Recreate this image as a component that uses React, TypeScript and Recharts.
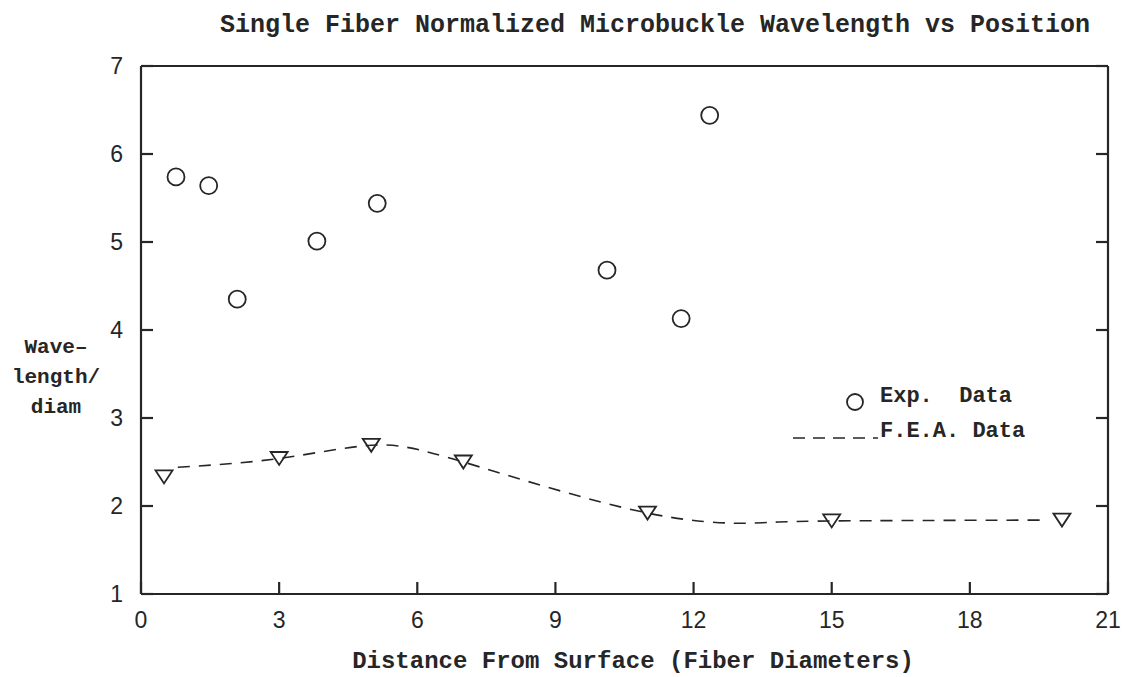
import { ComposedChart, Scatter, Line, XAxis, YAxis, Legend } from "recharts";

const X_TICKS = [0, 3, 6, 9, 12, 15, 18, 21];
const Y_TICKS = [1, 2, 3, 4, 5, 6, 7];

// experimental points (circles)
const expX = [0.76, 1.47, 2.09, 3.82, 5.13, 10.12, 11.73, 12.35];
const expY = [5.74, 5.64, 4.35, 5.01, 5.44, 4.68, 4.13, 6.44];

// F.E.A. points (triangles)
const feaX = [0.5, 3, 5, 7, 11, 15, 20];
const feaY = [2.33, 2.54, 2.69, 2.5, 1.92, 1.83, 1.84];

// dashed curve
const curveX = [0.8, 3, 5, 7, 11, 13.5, 15, 19.6];
const curveY = [2.44, 2.54, 2.69, 2.5, 1.92, 1.81, 1.83, 1.84];

const expData = expX.map((x, i) => ({ x, y: expY[i] }));
const feaData = feaX.map((x, i) => ({ x, y: feaY[i] }));
const curveData = curveX.map((x, i) => ({ x, y: curveY[i] }));

const INK = "#262626";
const MONO = "'Liberation Mono', 'DejaVu Sans Mono', monospace";
const SANS = "'Liberation Sans', Arial, sans-serif";

const tickStyle = { fontFamily: SANS, fontSize: 23, fill: INK };

function Triangle(props: any) {
  const { cx, cy } = props;
  if (cx == null || cy == null) return null;
  const d = `M${cx - 8.5},${cy - 6.5} L${cx + 8.5},${cy - 6.5} L${cx},${cy + 6.5} Z`;
  return <path d={d} fill="none" stroke={INK} strokeWidth={1.8} strokeLinejoin="miter" />;
}

function Ring(props: any) {
  const { cx, cy } = props;
  if (cx == null || cy == null) return null;
  return <circle cx={cx} cy={cy} r={8.5} fill="none" stroke={INK} strokeWidth={1.8} />;
}

function KeyBox() {
  const row = { display: "flex", alignItems: "flex-start", height: 35, lineHeight: "35px" };
  return (
    <div style={{ fontFamily: MONO, fontSize: 22, fontWeight: 700, color: INK }}>
      <div style={row}>
        <svg width={90} height={35}>
          <circle cx={65} cy={23} r={8} fill="none" stroke={INK} strokeWidth={1.8} />
        </svg>
        <span style={{ whiteSpace: "pre" }}>Exp.  Data</span>
      </div>
      <div style={row}>
        <svg width={90} height={35}>
          <line x1={3} x2={88} y1={24} y2={24} stroke={INK} strokeWidth={1.6} strokeDasharray="12 8" />
        </svg>
        <span style={{ whiteSpace: "pre" }}>F.E.A. Data</span>
      </div>
    </div>
  );
}

export default function App() {
  return (
    <div style={{ position: "absolute", left: 0, top: 0, width: 1131, height: 677, background: "#fff" }}>
      <div
        style={{
          position: "absolute", left: 205, top: 11, width: 900, textAlign: "center",
          fontFamily: MONO, fontWeight: 700, fontSize: 25, lineHeight: "30px", color: INK,
        }}
      >
        Single Fiber Normalized Microbuckle Wavelength vs Position
      </div>
      <div
        style={{
          position: "absolute", left: 6, top: 333, width: 100, textAlign: "center",
          fontFamily: MONO, fontWeight: 700, fontSize: 21, lineHeight: "30px", color: INK,
        }}
      >
        <div>Wave–</div>
        <div>length/</div>
        <div>diam</div>
      </div>
      <div
        style={{
          position: "absolute", left: 233, top: 647, width: 800, textAlign: "center",
          fontFamily: MONO, fontWeight: 700, fontSize: 24, lineHeight: "30px", color: INK,
        }}
      >
        Distance From Surface (Fiber Diameters)
      </div>
      <ComposedChart width={1131} height={677} margin={{ top: 65, left: 140, right: 22, bottom: 82 }}>
        <XAxis
          xAxisId="b" dataKey="x" type="number" domain={[0, 21]} ticks={X_TICKS} allowDataOverflow
          height={1} tickSize={-12} tickMargin={30} tick={tickStyle}
          stroke={INK} strokeWidth={2.2} interval={0}
        />
        <XAxis
          xAxisId="t" orientation="top" type="number" domain={[0, 21]} ticks={X_TICKS} allowDataOverflow
          height={1} tickSize={-12} tickFormatter={() => ""} stroke={INK} strokeWidth={2.2} interval={0}
        />
        <YAxis
          yAxisId="l" dataKey="y" type="number" domain={[1, 7]} ticks={Y_TICKS} allowDataOverflow
          width={1} tickSize={-12} tickMargin={30} tick={tickStyle}
          stroke={INK} strokeWidth={2.2} interval={0}
        />
        <YAxis
          yAxisId="r" orientation="right" type="number" domain={[1, 7]} ticks={Y_TICKS} allowDataOverflow
          width={1} tickSize={-12} tickFormatter={() => ""} stroke={INK} strokeWidth={2.2} interval={0}
        />
        <Legend
          layout="vertical" align="center" verticalAlign="middle"
          content={() => <KeyBox />}
          wrapperStyle={{ left: 790, top: 379, width: 260 }}
        />
        <Line
          xAxisId="b" yAxisId="l" data={curveData} dataKey="y" type="natural"
          stroke={INK} strokeWidth={1.6} strokeDasharray="12 9" dot={false}
          activeDot={false} isAnimationActive={false} legendType="none"
        />
        <Scatter
          xAxisId="b" yAxisId="l" data={feaData} dataKey="y" shape={<Triangle />}
          isAnimationActive={false} legendType="none"
        />
        <Scatter
          xAxisId="b" yAxisId="l" data={expData} dataKey="y" shape={<Ring />}
          isAnimationActive={false} legendType="none"
        />
      </ComposedChart>
    </div>
  );
}
